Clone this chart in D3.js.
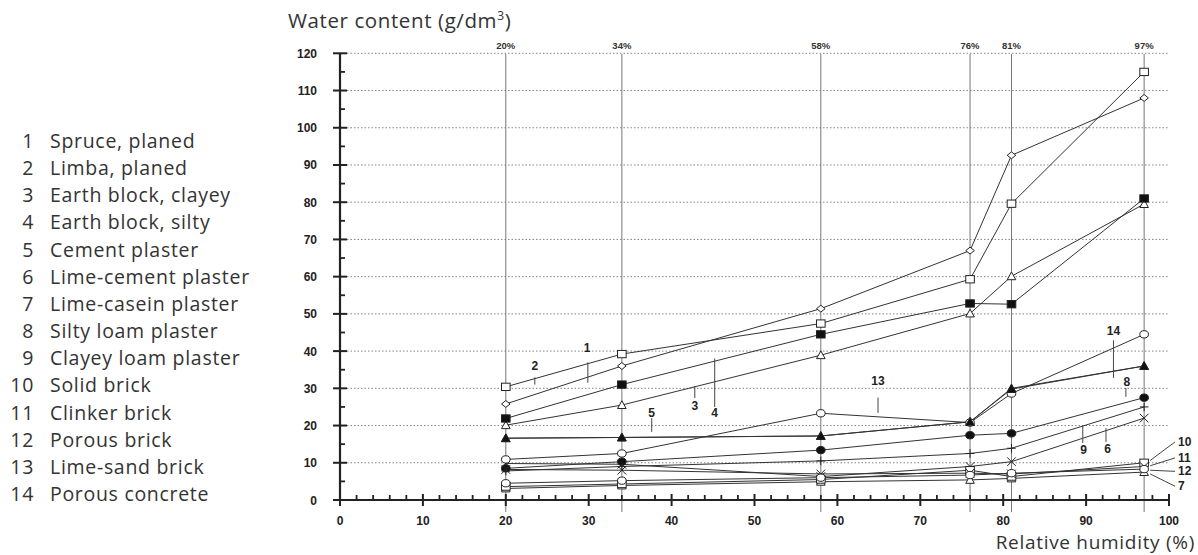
<!DOCTYPE html>
<html>
<head>
<meta charset="utf-8">
<script src="https://cdn.jsdelivr.net/npm/d3@7"></script>
<style>
  html, body { margin: 0; padding: 0; background: #fff; }
  svg { display: block; }
</style>
</head>
<body>
<svg id="chart" width="1198" height="555"></svg>
<script>
// Relative humidity levels at which equilibrium moisture was measured (%)
const humidity = [20, 34, 58, 76, 81, 97];

// Material names, numbered 1..14
const materials = [
  "Spruce, planed", "Limba, planed", "Earth block, clayey", "Earth block, silty",
  "Cement plaster", "Lime-cement plaster", "Lime-casein plaster", "Silty loam plaster",
  "Clayey loam plaster", "Solid brick", "Clinker brick", "Porous brick",
  "Lime-sand brick", "Porous concrete"
];

// Water content per material (g/dm³), one value per humidity level
const spruce       = [25.8, 36.0, 51.4, 67.0, 92.6, 108.0];
const limba        = [30.4, 39.2, 47.4, 59.3, 79.6, 115.0];
const earthClayey  = [20.1, 25.5, 38.9, 50.1, 60.1, 79.5];
const earthSilty   = [21.9, 31.0, 44.5, 52.8, 52.6, 81.0];
const cementPl     = [16.6, 16.8, 17.2, 21.0, 30.0, 36.0];
const limeCement   = [9.8, 9.6, 6.3, 9.0, 10.3, 22.0];
const limeCasein   = [3.1, 3.9, 4.9, 5.4, 5.8, 7.5];
const siltyLoam    = [8.5, 10.3, 13.4, 17.4, 17.9, 27.5];
const clayeyLoam   = [7.8, 9.0, 10.5, 12.5, 13.9, 25.0];
const solidBrick   = [3.6, 4.3, 5.5, 8.0, 6.3, 10.0];
const clinkerBrick = [8.2, 8.0, 7.0, 7.2, 7.0, 9.0];
const porousBrick  = [4.5, 5.2, 6.0, 6.7, 7.2, 8.3];
const limeSand     = [10.9, 12.5, 23.3, 20.8, 28.6, 44.5];
const porousConc   = [16.6, 16.8, 17.2, 21.0, 29.8, 36.0];

const seriesValues = [spruce, limba, earthClayey, earthSilty, cementPl, limeCement,
  limeCasein, siltyLoam, clayeyLoam, solidBrick, clinkerBrick, porousBrick, limeSand, porousConc];

// Marker symbol per material
const markers = ["diamondOpen", "squareOpen", "triangleOpen", "squareFilled", "triangleFilled",
  "cross", "triangleOpen", "circleFilled", "plus", "squareOpen", "cross", "circleOpen",
  "circleOpen", "triangleFilled"];

// Axis ticks
const yTicks = d3.range(0, 121, 10);
const xTicks = d3.range(0, 101, 10);
const humidityLabels = ["20%", "34%", "58%", "76%", "81%", "97%"];

// Callout numbers: [label, label x %, label y g/dm³, leader x %, leader top, leader bottom]
const callouts = [
  ["1", 29.8, 40.8, 29.9, 37.0, 31.5],
  ["2", 23.5, 36.0, 23.5, 33.0, 31.0],
  ["3", 42.8, 25.3, 42.8, 30.6, 27.4],
  ["4", 45.2, 23.3, 45.2, 38.0, 25.0],
  ["5", 37.6, 23.3, 37.6, 22.0, 18.3],
  ["13", 64.9, 32.1, 64.9, 27.5, 23.4],
  ["14", 93.3, 45.5, 93.3, 42.9, 32.8],
  ["8", 94.9, 31.6, 94.8, 30.1, 27.7],
  ["9", 89.7, 13.4, 89.6, 20.1, 15.3],
  ["6", 92.6, 13.7, 92.4, 19.3, 15.6]
];
// Right-hand callouts with slanted leaders: [label, label y, leader start y at 97%]
const sideCallouts = [["10", 15.6, 10.6], ["11", 11.3, 9.2], ["12", 7.7, 8.0], ["7", 3.7, 7.0]];

const svg = d3.select("#chart");
const x = d3.scaleLinear().domain([0, 100]).range([340, 1169]);
const y = d3.scaleLinear().domain([0, 120]).range([500, 53.3]);

const ink = "#222";
const numFont = "Liberation Sans, Arial, sans-serif";
const textFont = "'Open Sans', 'Noto Sans', sans-serif";

// Axis titles
svg.append("text").attr("x", 288).attr("y", 28)
  .attr("font-family", textFont).attr("font-size", 20.5).attr("letter-spacing", 0.6).attr("fill", "#333")
  .html("Water content (g/dm<tspan dy='-8' font-size='12'>3</tspan><tspan dy='8'>)</tspan>");
svg.append("text").attr("x", 1195).attr("y", 549).attr("text-anchor", "end")
  .attr("font-family", textFont).attr("font-size", 19).attr("letter-spacing", 0.7).attr("fill", "#333")
  .text("Relative humidity (%)");

// Legend
const legend = svg.append("g").attr("font-family", textFont).attr("font-size", 19.5)
  .attr("letter-spacing", 0.7).attr("fill", "#333");
materials.forEach((m, i) => {
  const ly = 148 + i * 27.15;
  legend.append("text").attr("x", 34).attr("y", ly).attr("text-anchor", "end").text(i + 1);
  legend.append("text").attr("x", 50).attr("y", ly).text(m);
});

// Horizontal dotted grid
svg.append("g").selectAll("line").data(yTicks.filter(d => d > 0)).join("line")
  .attr("x1", 347).attr("x2", 1169).attr("y1", d => y(d)).attr("y2", d => y(d))
  .attr("stroke", "#666").attr("stroke-width", 0.8).attr("stroke-dasharray", "1.5,2");

// Vertical lines at measured humidities
svg.append("g").selectAll("line").data(humidity).join("line")
  .attr("x1", d => x(d)).attr("x2", d => x(d)).attr("y1", 54).attr("y2", 512)
  .attr("stroke", "#777").attr("stroke-width", 1);
svg.append("g").selectAll("text").data(humidity).join("text")
  .attr("x", d => x(d)).attr("y", 49).attr("text-anchor", "middle")
  .attr("font-family", numFont).attr("font-weight", "bold").attr("font-size", 9.5).attr("fill", "#333")
  .text((d, i) => humidityLabels[i]);

// Y axis
const yAxis = svg.append("g");
yAxis.append("line").attr("x1", 340).attr("x2", 340).attr("y1", y(120)).attr("y2", y(0))
  .attr("stroke", ink).attr("stroke-width", 2.2);
yAxis.selectAll(".maj").data(yTicks).join("line").attr("class", "maj")
  .attr("x1", 333).attr("x2", 347).attr("y1", d => y(d)).attr("y2", d => y(d))
  .attr("stroke", ink).attr("stroke-width", 2);
yAxis.selectAll(".min").data(d3.range(5, 120, 10)).join("line").attr("class", "min")
  .attr("x1", 340).attr("x2", 345).attr("y1", d => y(d)).attr("y2", d => y(d))
  .attr("stroke", ink).attr("stroke-width", 1.8);
yAxis.selectAll("text").data(yTicks).join("text")
  .attr("x", 317).attr("y", d => y(d) + 4.5).attr("text-anchor", "end")
  .attr("font-family", numFont).attr("font-weight", "bold").attr("font-size", 12).attr("fill", ink)
  .text(d => d);

// X axis
const xAxis = svg.append("g");
xAxis.append("line").attr("x1", x(0)).attr("x2", x(100)).attr("y1", 500).attr("y2", 500)
  .attr("stroke", ink).attr("stroke-width", 2.2);
xAxis.selectAll(".maj").data(xTicks).join("line").attr("class", "maj")
  .attr("x1", d => x(d)).attr("x2", d => x(d)).attr("y1", 494).attr("y2", 506)
  .attr("stroke", ink).attr("stroke-width", 2);
xAxis.selectAll(".min").data(d3.range(2, 100, 2).filter(d => d % 10)).join("line").attr("class", "min")
  .attr("x1", d => x(d)).attr("x2", d => x(d)).attr("y1", 495).attr("y2", 500)
  .attr("stroke", ink).attr("stroke-width", 1.8);
xAxis.selectAll("text").data(xTicks).join("text")
  .attr("x", d => x(d)).attr("y", 525).attr("text-anchor", "middle")
  .attr("font-family", numFont).attr("font-weight", "bold").attr("font-size", 12).attr("fill", ink)
  .text(d => d);

// Series lines
const line = d3.line().x((d, i) => x(humidity[i])).y(d => y(d));
svg.append("g").selectAll("path").data(seriesValues).join("path")
  .attr("d", d => line(d)).attr("fill", "none").attr("stroke", "#333").attr("stroke-width", 1);

// Markers
function drawMarker(g, type, cx, cy) {
  const s = 4.3;
  const filled = type.endsWith("Filled");
  const fill = filled ? "#111" : "#fff";
  if (type.startsWith("square")) {
    g.append("rect").attr("x", cx - s).attr("y", cy - s * 0.85).attr("width", 2 * s).attr("height", 1.7 * s)
      .attr("fill", fill).attr("stroke", "#222").attr("stroke-width", 1);
  } else if (type.startsWith("diamond")) {
    g.append("path").attr("d", `M${cx - s},${cy}L${cx},${cy - s * 0.8}L${cx + s},${cy}L${cx},${cy + s * 0.8}Z`)
      .attr("fill", fill).attr("stroke", "#222").attr("stroke-width", 1);
  } else if (type.startsWith("triangle")) {
    g.append("path").attr("d", `M${cx},${cy - s}L${cx + s},${cy + s * 0.8}L${cx - s},${cy + s * 0.8}Z`)
      .attr("fill", fill).attr("stroke", "#222").attr("stroke-width", 1);
  } else if (type.startsWith("circle")) {
    g.append("ellipse").attr("cx", cx).attr("cy", cy).attr("rx", s).attr("ry", s * 0.85)
      .attr("fill", fill).attr("stroke", "#222").attr("stroke-width", 1);
  } else if (type === "plus") {
    g.append("path").attr("d", `M${cx - s},${cy}H${cx + s}M${cx},${cy - s}V${cy + s}`)
      .attr("stroke", "#222").attr("stroke-width", 1);
  } else if (type === "cross") {
    g.append("path").attr("d", `M${cx - s},${cy - s}L${cx + s},${cy + s}M${cx + s},${cy - s}L${cx - s},${cy + s}`)
      .attr("stroke", "#222").attr("stroke-width", 1);
  }
}
const markG = svg.append("g");
seriesValues.forEach((vals, si) => {
  vals.forEach((v, i) => drawMarker(markG, markers[si], x(humidity[i]), y(v)));
});

// Numbered callouts with short leaders
const cg = svg.append("g").attr("font-family", numFont).attr("font-weight", "bold").attr("font-size", 12).attr("fill", ink);
callouts.forEach(([lab, lx, ly, px, top, bot]) => {
  cg.append("text").attr("x", x(lx)).attr("y", y(ly) + 4).attr("text-anchor", "middle").text(lab);
  cg.append("line").attr("x1", x(px)).attr("x2", x(px)).attr("y1", y(top)).attr("y2", y(bot))
    .attr("stroke", "#444").attr("stroke-width", 1);
});
sideCallouts.forEach(([lab, ly, sy]) => {
  cg.append("text").attr("x", 1178).attr("y", y(ly) + 4).text(lab);
  cg.append("line").attr("x1", x(97) + 6).attr("x2", 1175).attr("y1", y(sy)).attr("y2", y(ly))
    .attr("stroke", "#444").attr("stroke-width", 1);
});
</script>
</body>
</html>
